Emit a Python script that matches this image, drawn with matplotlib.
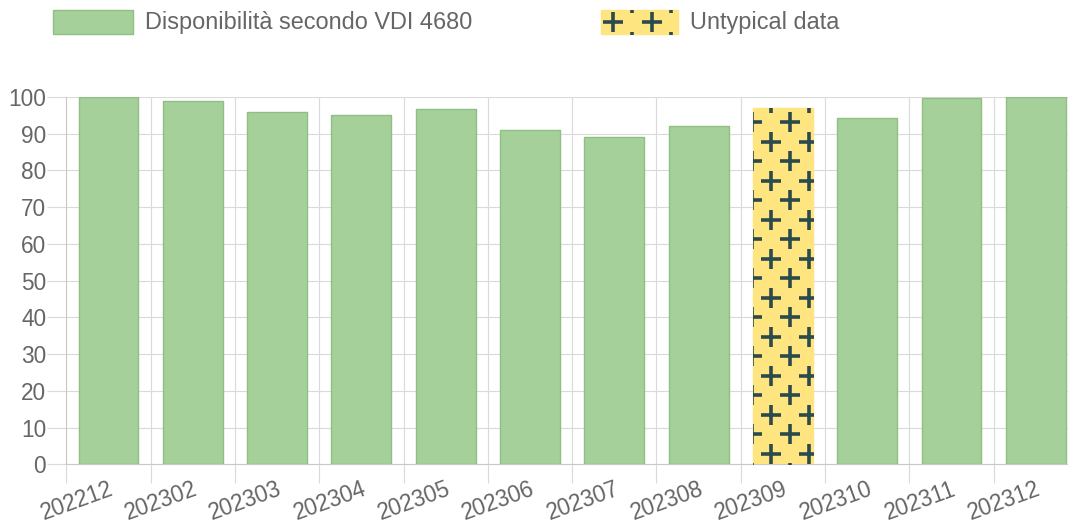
import matplotlib
matplotlib.use("Agg")
import matplotlib.pyplot as plt
import numpy as np
from matplotlib.lines import Line2D
from matplotlib.patches import Rectangle
from matplotlib.transforms import IdentityTransform

# monthly availability (VDI 4680)
months = ["202212", "202302", "202303", "202304", "202305", "202306",
          "202307", "202308", "202309", "202310", "202311", "202312"]
availability = [100, 99, 96, 95, 96.8, 91, 89, 92, 97, 94.3, 99.7, 100]
untypical = [False, False, False, False, False, False,
             False, False, True, False, False, False]

legend_labels = ["Disponibilità secondo VDI 4680", "Untypical data"]

plt.rcParams['font.family'] = ['Liberation Sans', 'DejaVu Sans']

GREEN = "#a6d09a"
GREEN_EDGE = "#8fbf83"
YELLOW = "#fee57f"
CROSS = "#2b4a4b"
GRID = "#dadada"
TEXT = "#666666"
FS = 16.3
FS_LEG = 16.9

W, H = 1068, 529
fig = plt.figure(figsize=(W / 100, H / 100), dpi=100)

# plot area in pixels (top-left origin), right edge runs past the image like in the reference
left, right, top, bottom = 66.3, 1078.0, 97.0, 464.3
ax = fig.add_axes([left / W, (H - bottom) / H, (right - left) / W, (bottom - top) / H])


def add_crosses(patch, x0=790.0, y0=122.0, dx=38.5, dy=39.0):
    # tile the "+" pattern over a patch (pixel lattice, top-left image coords)
    bb = patch.get_window_extent()
    xs, ys = [], []
    j_min = int(np.floor(((H - bb.y1) - y0) / (dy / 2))) - 2
    j_max = int(np.ceil(((H - bb.y0) - y0) / (dy / 2))) + 2
    for j in range(j_min, j_max + 1):
        yy = y0 + j * dy / 2
        shift = -dx / 2 if j % 2 else 0.0
        i_min = int(np.floor((bb.x0 - x0 - shift) / dx)) - 1
        i_max = int(np.ceil((bb.x1 - x0 - shift) / dx)) + 1
        for i in range(i_min, i_max + 1):
            xs.append(x0 + shift + i * dx)
            ys.append(H - yy)
    line = Line2D(xs, ys, ls="none", marker="+", ms=14.5, mew=2.6,
                  color=CROSS, transform=IdentityTransform(), zorder=4)
    fig.add_artist(line)
    line.set_clip_path(patch)
    return line


x = np.arange(len(months))
colors = [YELLOW if u else GREEN for u in untypical]
edges = [YELLOW if u else GREEN_EDGE for u in untypical]
bars = ax.bar(x, availability, width=0.71, color=colors, edgecolor=edges,
              linewidth=1.0, zorder=3)

ax.set_xlim(-0.5, len(months) - 0.5)
ax.set_ylim(0, 100)

# y axis
ax.set_yticks(np.arange(0, 101, 10))
ax.tick_params(axis="y", length=13.7, width=0.8, color=GRID, pad=0.8,
               labelsize=FS, labelcolor=TEXT)
ax.grid(axis="y", color=GRID, linewidth=0.8, zorder=0)

# x axis: labels at centres, grid lines / ticks at category borders
ax.set_xticks(x)
ax.set_xticklabels(months)
ax.set_xticks(np.arange(-0.5, len(months), 1.0), minor=True)
ax.tick_params(axis="x", which="major", length=0, pad=9.5, labelsize=FS,
               labelcolor=TEXT)
ax.tick_params(axis="x", which="minor", length=13.7, width=0.8, color=GRID)
ax.grid(axis="x", which="minor", color=GRID, linewidth=0.8, zorder=0)
plt.setp(ax.get_xticklabels(), rotation=20, ha="right", rotation_mode="anchor")

for side in ["top", "right"]:
    ax.spines[side].set_visible(False)
for side in ["left", "bottom"]:
    ax.spines[side].set_color("#c8c8c8")
    ax.spines[side].set_linewidth(0.8)

# legend, drawn at the top like the reference
leg_green = Rectangle((53 / W, 1 - 34 / H), 80 / W, 24 / H, transform=fig.transFigure,
                      facecolor=GREEN, edgecolor=GREEN_EDGE, linewidth=1.0)
leg_yellow = Rectangle((601 / W, 1 - 34 / H), 77 / W, 24 / H, transform=fig.transFigure,
                       facecolor=YELLOW, edgecolor=YELLOW, linewidth=1.0)
fig.patches.extend([leg_green, leg_yellow])
fig.text(145 / W, 1 - 22 / H, legend_labels[0], fontsize=FS_LEG, color=TEXT, va="center")
fig.text(690 / W, 1 - 22 / H, legend_labels[1], fontsize=FS_LEG, color=TEXT, va="center")

fig.canvas.draw()
for b, u in zip(bars, untypical):
    if u:
        add_crosses(b)
add_crosses(leg_yellow, x0=613.0, y0=22.0)

fig.savefig("out.png", dpi=100)
